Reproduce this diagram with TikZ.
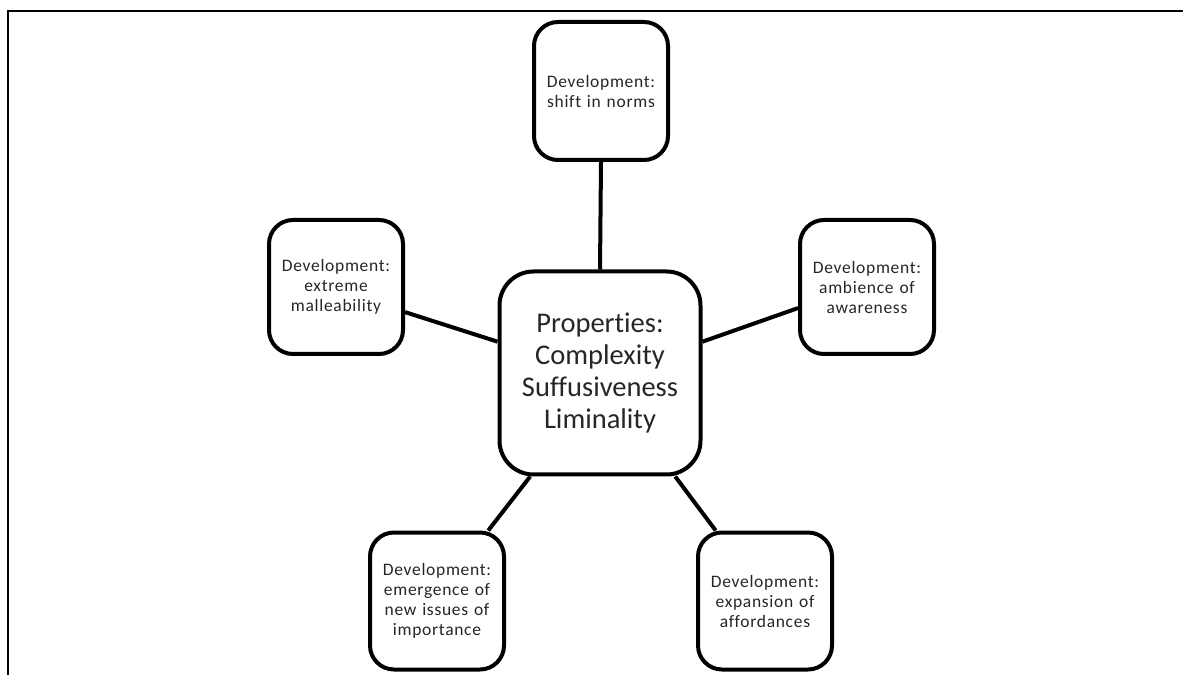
\documentclass[tikz,border=0pt]{standalone}
\usepackage{fontspec}
\setmainfont[Ligatures=NoCommon]{Carlito}
\definecolor{inktext}{HTML}{262626}
\begin{document}
\begin{tikzpicture}[x=1pt,y=1pt,
  devbox/.style={draw, line width=4pt, rounded corners=24pt,
    minimum width=134pt, minimum height=134pt, align=center,
    inner sep=2pt, text width=128pt, text=inktext,
    font=\fontsize{17.5}{20}\selectfont\addfontfeature{LetterSpace=4}},
  propbox/.style={draw, line width=4pt, rounded corners=34pt,
    minimum width=201pt, minimum height=203pt, align=center,
    text=inktext, font=\fontsize{28.5}{32}\selectfont},
  link/.style={line width=4pt}]
  \useasboundingbox (0,0) rectangle (1183,675);
  % frame edges
  \coordinate (ftl) at (8,664);
  \coordinate (ftr) at (1183,664);
  \coordinate (fbl) at (8,0);
  \draw[line width=2.4pt] (fbl) -- (ftl) -- (ftr);

  \node[propbox] (c) at (600,302) {Properties:\\Complexity\\Suffusiveness\\Liminality};
  \node[devbox, minimum height=138pt] (t) at (601,584) {Development:\\shift in norms};
  \node[devbox] (l) at (336,388) {Development:\\extreme\\malleability};
  \node[devbox] (r) at (867,388) {Development:\\ambience of\\awareness};
  \node[devbox, minimum height=137pt] (bl) at (437,74) {Development:\\emergence of\\new issues of\\importance};
  \node[devbox, minimum height=137pt] (br) at (765,74) {Development:\\expansion of\\affordances};

  \draw[link] (t.south) -- (c.north);
  \draw[link] (l.-20) -- (c.163);
  \draw[link] (r.197) -- (c.17);
  \draw[link] (bl.54) -- (c.-124);
  \draw[link] (br.125) -- (c.-54);
\end{tikzpicture}
\end{document}
